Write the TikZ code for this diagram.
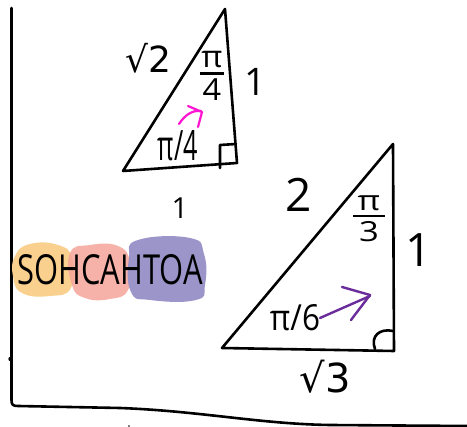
\documentclass[tikz,border=0pt]{standalone}
\usepackage{fontspec}
\setmainfont{Open Sans}
\newfontfamily\symfont{DejaVu Sans}
\definecolor{inkpink}{RGB}{255,20,210}
\definecolor{inkpurple}{RGB}{106,44,154}
\definecolor{blobor}{RGB}{250,208,143}
\definecolor{blobpk}{RGB}{245,164,153}
\definecolor{blobpu}{RGB}{156,149,201}
\begin{document}
\begin{tikzpicture}[x=1pt,y=-1pt,
  ink/.style={line width=2.6pt,line cap=round,line join=round},
  lbl/.style={inner sep=0pt,outer sep=0pt},
  fs/.style={font=\fontsize{#1}{#1}\selectfont}]
\useasboundingbox (0,0) rectangle (467,427);
\fill[white] (0,0) rectangle (467,427);
% axes
\draw[ink] (11.5,8) -- (11.5,400) .. controls (11.5,405) and (13,406) .. (18,406)
  -- (120,408) .. controls (200,411) and (260,424) .. (330,425) -- (467,426);
\fill (10.5,359) circle (2.2pt);
\fill (129,426) circle (0.8pt);
% small triangle
\draw[ink] (225,9) -- (123,171) -- (237,163) -- cycle;
\draw[ink] (220,168) -- (220,145) -- (236,144);
% big triangle
\draw[ink] (393,144) -- (222,348) -- (394,351) -- cycle;
\draw[ink] (375,349) .. controls (370,336) and (380,328) .. (393,331);
% labels small triangle
\node[lbl,fs=36] (s2) at (148,58) {\symfont √2};
\node[lbl] (p4a) at (212,76) {\resizebox*{25pt}{50pt}{\fontsize{26}{26}\selectfont\shortstack{π\\[1pt]\rule{20pt}{2pt}\\[1pt]4}}};
\node[lbl,fs=38] (one1) at (255,82) {1};
\node[lbl] (p4b) at (178,146) {\resizebox{40pt}{30pt}{π/4}};
\node[lbl,fs=29] (one2) at (180,208) {1};
% labels big triangle
\node[lbl,fs=46] (two) at (299,195) {2};
\node[lbl] (p3) at (369,219) {\resizebox*{32pt}{46pt}{\fontsize{26}{26}\selectfont\shortstack{π\\[1pt]\rule{24pt}{2pt}\\[1pt]3}}};
\node[lbl,fs=46] (one3) at (419,250) {1};
\node[lbl] (p6) at (295,318) {\resizebox{50pt}{26pt}{π/6}};
\node[lbl,fs=40] (s3) at (325,377) {\symfont √3};
% arrows
\draw[ink,inkpink,line width=2.2pt] (179,124) .. controls (185,115) and (192,110) .. (201,111);
\draw[ink,inkpink,line width=2.2pt] (188,106) -- (202,112) -- (198,127);
\draw[ink,inkpurple,line width=2.4pt] (p6.east) -- (370,296);
\draw[ink,inkpurple,line width=2.4pt] (342,287) -- (370,295) -- (351,320);
% SOHCAHTOA blobs
\fill[blobor] plot[smooth cycle,tension=0.8] coordinates {(15,256) (30,244) (58,245) (72,258) (71,288) (50,296) (22,293) (13,276)};
\fill[blobpk,opacity=0.85] plot[smooth cycle,tension=0.8] coordinates {(70,253) (90,245) (118,246) (130,262) (128,290) (110,299) (85,298) (72,285)};
\fill[blobpu] plot[smooth cycle,tension=0.8] coordinates {(138,240) (190,238) (204,254) (205,285) (196,300) (150,300) (131,292) (129,258)};
\node[lbl] (soh) at (110,270) {\resizebox{185pt}{30pt}{SOHCAHTOA}};
\end{tikzpicture}
\end{document}
